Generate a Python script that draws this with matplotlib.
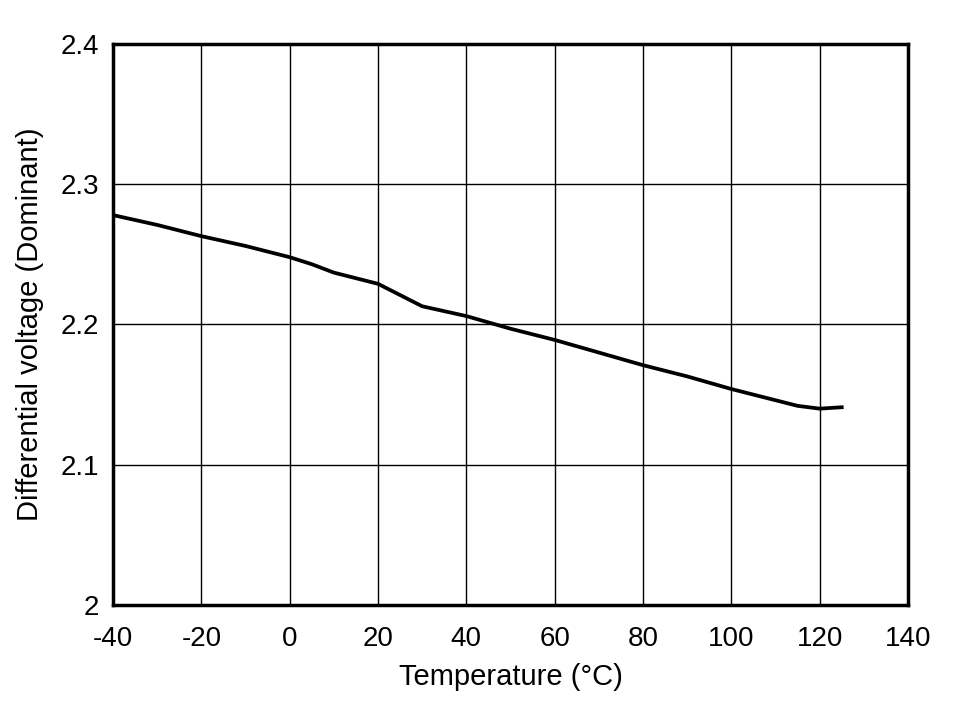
import matplotlib
matplotlib.use('Agg')
import matplotlib.pyplot as plt

temp = [-40, -30, -20, -10, 0, 5, 10, 20, 25, 30, 40, 50, 60, 70, 80, 90, 100, 110, 115, 120, 125]
vdiff = [2.278, 2.271, 2.263, 2.256, 2.248, 2.243, 2.237, 2.229, 2.221, 2.213, 2.206, 2.197, 2.189, 2.180, 2.171, 2.163, 2.154, 2.146, 2.142, 2.140, 2.141]

x_ticks = [-40, -20, 0, 20, 40, 60, 80, 100, 120, 140]
y_ticks = [2.0, 2.1, 2.2, 2.3, 2.4]
y_labels = ['2', '2.1', '2.2', '2.3', '2.4']

plt.rcParams['font.family'] = ['Liberation Sans', 'DejaVu Sans']
plt.rcParams['axes.unicode_minus'] = False

fig = plt.figure(figsize=(9.56, 7.01), dpi=100)
ax = fig.add_axes([113 / 956, 96 / 701, 795 / 956, 561 / 701])

ax.plot(temp, vdiff, color='black', linewidth=2.7, zorder=3)

ax.set_xlim(-40, 140)
ax.set_ylim(2.0, 2.4)
ax.set_xticks(x_ticks)
ax.set_yticks(y_ticks)
ax.set_yticklabels(y_labels)
ax.tick_params(length=0, labelsize=20)
ax.tick_params(axis='x', pad=15)
ax.tick_params(axis='y', pad=10)
ax.grid(True, color='black', linewidth=1)
for s in ax.spines.values():
    s.set_linewidth(2.5)

ax.set_xlabel('Temperature (°C)', fontsize=21, labelpad=8)
ax.set_ylabel('Differential voltage (Dominant)', fontsize=21, labelpad=12)

fig.savefig('out.png', dpi=100)
